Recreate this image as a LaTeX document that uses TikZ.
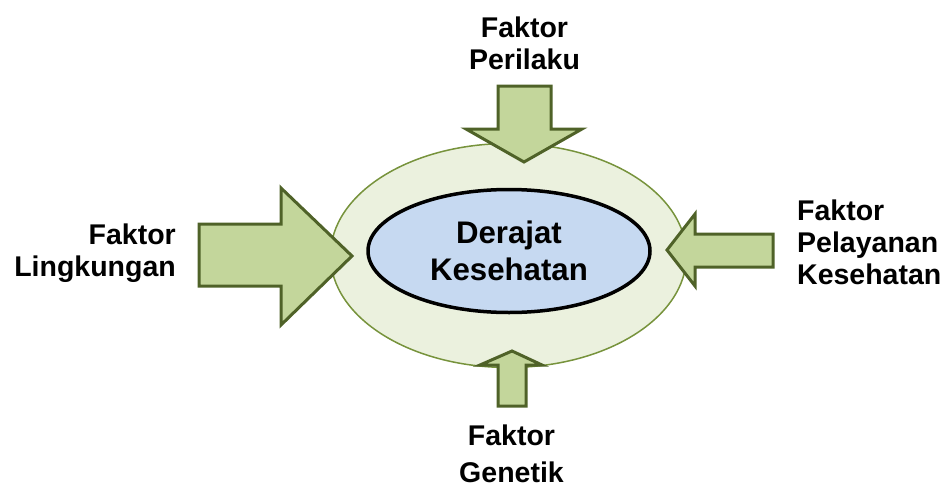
\documentclass[tikz,border=0pt]{standalone}
\usepackage{fontspec}
\setmainfont{Liberation Sans}
\usetikzlibrary{shapes.geometric}
\definecolor{arrowfill}{HTML}{C3D69B}
\definecolor{arrowline}{HTML}{4F6228}
\definecolor{outerfill}{HTML}{EBF1DE}
\definecolor{outerline}{HTML}{77933C}
\definecolor{innerfill}{HTML}{C6D9F1}
\tikzset{
  blockarrow/.style = {draw=arrowline, fill=arrowfill, line width=3pt, line join=miter},
  factor/.style = {inner sep=0pt, font=\bfseries\fontsize{28.5}{32}\selectfont}
}
\begin{document}
\begin{tikzpicture}[x=1pt, y=-1pt]
\useasboundingbox (0,0) rectangle (944,487);
% ellipses
\node[ellipse, draw=outerline, fill=outerfill, line width=1.5pt,
      minimum width=356pt, minimum height=224pt] (outer) at (508.5,255.5) {};
\node[ellipse, draw=black, fill=innerfill, line width=3.5pt, inner sep=0pt,
      minimum width=282pt, minimum height=123pt, align=center,
      font=\bfseries\fontsize{31.2}{37}\selectfont] (derajat) at (509,251) {Derajat\\Kesehatan};
% arrows
\draw[blockarrow] (199,224) -- (281,224) -- (281,188) -- (352,256) -- (281,325)
  -- (281,286) -- (199,286) -- cycle;
\draw[blockarrow] (773,234) -- (695,234) -- (695,214) -- (667,250) -- (695,286)
  -- (695,267) -- (773,267) -- cycle;
\draw[blockarrow] (498,86) -- (551,86) -- (551,129) -- (582,129) -- (524,162)
  -- (466,129) -- (498,129) -- cycle;
\draw[blockarrow] (498,406) -- (526,406) -- (526,365) -- (542,365) -- (512,351)
  -- (480,365) -- (498,365) -- cycle;
% labels
\begin{scope}[every node/.style = {factor}]
\node[anchor=north, align=center] (perilaku) at (524.5,16.3) {Faktor\\Perilaku};
\node[anchor=north east, align=right] (lingkungan) at (176,223.6) {Faktor\\Lingkungan};
\node[anchor=north west, align=left] (pelayanan) at (797,199.6) {Faktor\\Pelayanan\\Kesehatan};
\node[anchor=north, align=center, font=\bfseries\fontsize{28.5}{37}\selectfont] (genetik) at (511.5,424.6) {Faktor\\Genetik};
\end{scope}
\end{tikzpicture}
\end{document}
